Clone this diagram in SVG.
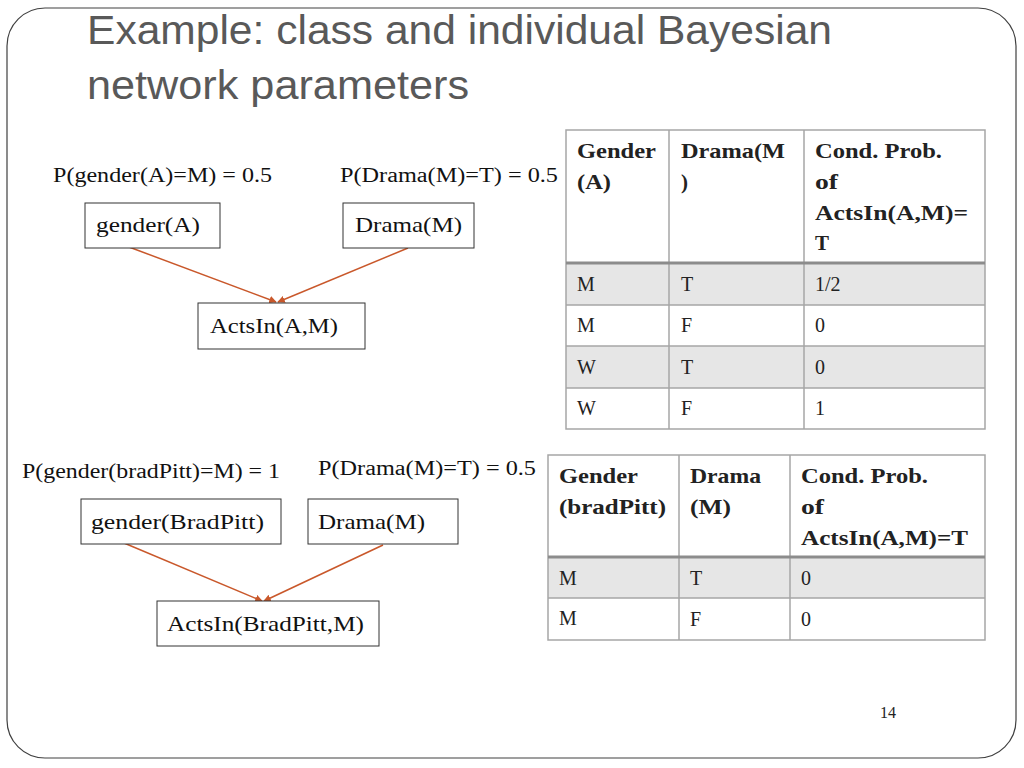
<svg xmlns="http://www.w3.org/2000/svg" width="1024" height="768" viewBox="0 0 1024 768">
<defs>
<style>
.title{font-family:"Liberation Sans",Arial,sans-serif;font-size:40px;fill:#595959}
.lbl{font-family:"Liberation Serif","Times New Roman",serif;font-size:20px;fill:#111}
.node rect{fill:#fff;stroke:#333;stroke-width:1}
.node text{font-family:"Liberation Serif","Times New Roman",serif;font-size:22px;fill:#111}
.th{font-family:"Liberation Serif","Times New Roman",serif;font-size:21px;font-weight:bold;fill:#222}
.td{font-family:"Liberation Serif","Times New Roman",serif;font-size:20px;fill:#222}
.grid{stroke:#a6a6a6;stroke-width:1.5;fill:none}
.edge{stroke:#c9582b;stroke-width:1.5;fill:none;marker-end:url(#ah)}
</style>
<marker id="ah" viewBox="0 0 10 10" refX="9" refY="5" markerWidth="5" markerHeight="5" orient="auto">
<path d="M0,0 L10,5 L0,10 z" fill="#c9582b"/>
</marker>
</defs>
<rect x="0" y="0" width="1024" height="768" fill="#fff"/>
<rect x="7" y="8" width="1009" height="750" rx="38" ry="38" fill="none" stroke="#404040" stroke-width="1.2"/>
<text class="title" x="87" y="44" textLength="745" lengthAdjust="spacingAndGlyphs">Example: class and individual Bayesian</text>
<text class="title" x="87" y="99" textLength="382" lengthAdjust="spacingAndGlyphs">network parameters</text>

<text class="lbl" x="53" y="182" textLength="219" lengthAdjust="spacingAndGlyphs">P(gender(A)=M) = 0.5</text>
<text class="lbl" x="340" y="182" textLength="218" lengthAdjust="spacingAndGlyphs">P(Drama(M)=T) = 0.5</text>
<text class="lbl" x="22" y="478" textLength="258" lengthAdjust="spacingAndGlyphs">P(gender(bradPitt)=M) = 1</text>
<text class="lbl" x="318" y="475" textLength="218" lengthAdjust="spacingAndGlyphs">P(Drama(M)=T) = 0.5</text>

<g id="connectors">
<line class="edge" x1="129" y1="247" x2="276" y2="302"/>
<line class="edge" x1="408" y1="248" x2="278" y2="302"/>
<line class="edge" x1="124" y1="543" x2="262" y2="601"/>
<line class="edge" x1="383" y1="545" x2="264" y2="601"/>
</g>

<g id="n_genderA" class="node"><rect x="85" y="203" width="135" height="45"/><text x="96" y="232" textLength="104" lengthAdjust="spacingAndGlyphs">gender(A)</text></g>
<g id="n_dramaM1" class="node"><rect x="343" y="203" width="131" height="45"/><text x="355" y="232" textLength="107" lengthAdjust="spacingAndGlyphs">Drama(M)</text></g>
<g id="n_actsInAM" class="node"><rect x="198" y="303" width="167" height="46"/><text x="210" y="333" textLength="128" lengthAdjust="spacingAndGlyphs">ActsIn(A,M)</text></g>

<g id="n_genderBP" class="node"><rect x="81" y="499" width="200" height="45"/><text x="91" y="529" textLength="173" lengthAdjust="spacingAndGlyphs">gender(BradPitt)</text></g>
<g id="n_dramaM2" class="node"><rect x="308" y="499" width="150" height="45"/><text x="318" y="529" textLength="107" lengthAdjust="spacingAndGlyphs">Drama(M)</text></g>
<g id="n_actsInBP" class="node"><rect x="157" y="601" width="222" height="45"/><text x="167" y="631" textLength="197" lengthAdjust="spacingAndGlyphs">ActsIn(BradPitt,M)</text></g>

<g id="table1">
<rect x="566" y="263" width="419" height="42" fill="#e6e6e6"/>
<rect x="566" y="346" width="419" height="42" fill="#e6e6e6"/>
<rect class="grid" x="566" y="130" width="419" height="299"/>
<line class="grid" x1="669" y1="130" x2="669" y2="429"/>
<line class="grid" x1="804" y1="130" x2="804" y2="429"/>
<line x1="566" y1="263" x2="985" y2="263" stroke="#8c8c8c" stroke-width="3"/>
<line class="grid" x1="566" y1="305" x2="985" y2="305"/>
<line class="grid" x1="566" y1="346" x2="985" y2="346"/>
<line class="grid" x1="566" y1="388" x2="985" y2="388"/>
<text class="th" x="577" y="158" textLength="79" lengthAdjust="spacingAndGlyphs">Gender</text>
<text class="th" x="577" y="189" textLength="34" lengthAdjust="spacingAndGlyphs">(A)</text>
<text class="th" x="681" y="158" textLength="104" lengthAdjust="spacingAndGlyphs">Drama(M</text>
<text class="th" x="681" y="189">)</text>
<text class="th" x="815" y="158" textLength="127" lengthAdjust="spacingAndGlyphs">Cond. Prob.</text>
<text class="th" x="815" y="189" textLength="23" lengthAdjust="spacingAndGlyphs">of</text>
<text class="th" x="815" y="220" textLength="153" lengthAdjust="spacingAndGlyphs">ActsIn(A,M)=</text>
<text class="th" x="815" y="250">T</text>
<text class="td" x="577" y="291">M</text><text class="td" x="681" y="291">T</text><text class="td" x="815" y="291">1/2</text>
<text class="td" x="577" y="332">M</text><text class="td" x="681" y="332">F</text><text class="td" x="815" y="332">0</text>
<text class="td" x="577" y="374">W</text><text class="td" x="681" y="374">T</text><text class="td" x="815" y="374">0</text>
<text class="td" x="577" y="415">W</text><text class="td" x="681" y="415">F</text><text class="td" x="815" y="415">1</text>
</g>

<g id="table2">
<rect x="548" y="557" width="437" height="41" fill="#e6e6e6"/>
<rect class="grid" x="548" y="455" width="437" height="185"/>
<line class="grid" x1="679" y1="455" x2="679" y2="640"/>
<line class="grid" x1="790" y1="455" x2="790" y2="640"/>
<line x1="548" y1="557" x2="985" y2="557" stroke="#8c8c8c" stroke-width="3"/>
<line class="grid" x1="548" y1="598" x2="985" y2="598"/>
<text class="th" x="559" y="483" textLength="79" lengthAdjust="spacingAndGlyphs">Gender</text>
<text class="th" x="559" y="514" textLength="107" lengthAdjust="spacingAndGlyphs">(bradPitt)</text>
<text class="th" x="690" y="483" textLength="71" lengthAdjust="spacingAndGlyphs">Drama</text>
<text class="th" x="690" y="514" textLength="41" lengthAdjust="spacingAndGlyphs">(M)</text>
<text class="th" x="801" y="483" textLength="127" lengthAdjust="spacingAndGlyphs">Cond. Prob.</text>
<text class="th" x="801" y="514" textLength="23" lengthAdjust="spacingAndGlyphs">of</text>
<text class="th" x="801" y="545" textLength="167" lengthAdjust="spacingAndGlyphs">ActsIn(A,M)=T</text>
<text class="td" x="559" y="585">M</text><text class="td" x="690" y="585">T</text><text class="td" x="801" y="585">0</text>
<text class="td" x="559" y="625">M</text><text class="td" x="690" y="626">F</text><text class="td" x="801" y="626">0</text>
</g>

<text class="td" x="880" y="718" style="font-size:16px">14</text>
</svg>
